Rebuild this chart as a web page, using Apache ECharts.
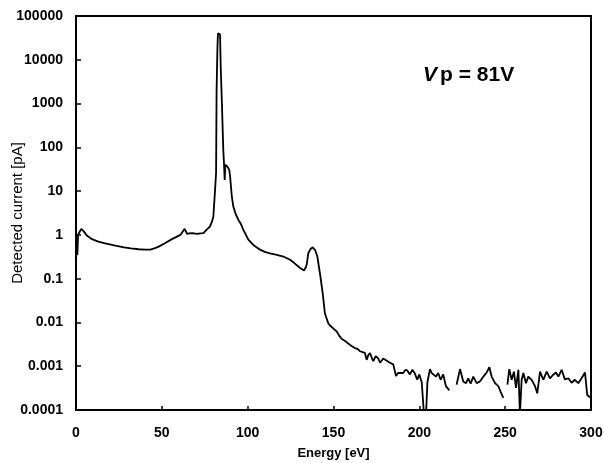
<!DOCTYPE html>
<html>
<head>
<meta charset="utf-8">
<script src="https://cdn.jsdelivr.net/npm/echarts@6/dist/echarts.min.js"></script>
<style>
  html, body { margin: 0; padding: 0; background: #fff; }
  #chart { width: 604px; height: 463px; }
</style>
</head>
<body>
<div id="chart"></div>
<script>
// Energy spectrum of detected current; null marks a break in the trace
const energy = [
  0.0, 0.4, 0.8, 1.2, 2.0, 3.1, 4.5, 6.5, 9.3, 13, 17, 22.9, 28, 32, 36.5, 40, 43.3, 46, 48.2,
  52, 55.9, 58.5, 60.8, 62.2, 63.3, 64.7, 66, 67.6, 70.5, 72.5, 74.2, 76, 78, 79.2, 80, 80.8,
  81.6, 81.9, 82.4, 82.7, 83.2, 83.9, 84.3, 85, 85.8, 86.2, 86.6, 87.0, 87.4, 88.5, 89.3, 89.8,
  90.7, 91.6, 93, 94.6, 96, 97.5, 98.4, 100.4, 103.3, 107.2, 110, 113, 117, 120.8, 124.7, 127,
  129.5, 131, 132.8, 133.8, 134.4, 135.3, 136.5, 137.9, 139.3, 140.6, 142.1, 143.7, 145, 147,
  148, 150, 151.9, 153.3, 154.8, 156.6, 158.6, 160.5, 162.5, 164, 165.4, 167, 168.3, 169.3, 170.3, 171.3, 172.2, 173.2, 174.6, 176.1, 177.1, 178.1, 179, 180,
  181.5, 182.9, 184.8, 186.4, 187.6, 188.7, 190.6, 191.8, 193, 194.5, 196, 197.4, 198.8, 200, 201.4, 202.7, 203.9,
  204.7, 206.2, 207.2, 208.1, 209.7, 211, 212.4, 213.9, 215.5, 217.5, 219.5,
  221.7, 223.7, 225.6, 227.2, 228.5, 229.9, 231.4, 233.4, 235.3, 237.3, 239.2, 240.8, 242.1,
  244.1, 246.0, 247.4, 248.9, 250.1,
  251.3, 252.4, 253.8, 255.1, 256.3, 257.7, 258.6, 259.6, 260.6, 262.1, 263.5, 265.4, 267.4,
  268.7, 270.3, 272.2, 274.2, 276.1, 278.0, 279.6, 281.0, 282.9, 284.8, 286.8, 288.7, 290.6,
  292.6, 294.5, 296.5, 297.8, 299.0, 300
];
const current = [
  0.2, 0.9, 0.35, 1.0, 1.15, 1.37, 1.2, 0.95, 0.80, 0.70, 0.64, 0.57, 0.52, 0.49, 0.47, 0.46, 0.46, 0.50, 0.54,
  0.65, 0.80, 0.90, 1.0, 1.2, 1.37, 1.05, 1.08, 1.1, 1.05, 1.08, 1.1, 1.3, 1.55, 2.0, 2.6, 8,
  26, 2000, 20000, 40000, 42000, 38000, 6900, 1000, 87, 44, 18, 40, 44, 35, 30, 21,
  8, 4.5, 3.0, 2.2, 1.8, 1.3, 1.2, 0.78, 0.59, 0.46, 0.41, 0.38, 0.35, 0.32, 0.27, 0.23,
  0.19, 0.17, 0.153, 0.18, 0.21, 0.38, 0.47, 0.52, 0.45, 0.32, 0.133, 0.047, 0.016, 0.0095,
  0.0085, 0.0072, 0.0062, 0.0050, 0.0042, 0.0038, 0.0033, 0.0029, 0.0026, 0.0025, 0.0022, 0.0021, 0.0020, 0.0014, 0.0018, 0.0020, 0.0016, 0.0013, 0.0017, 0.0015, 0.0012, 0.0013, 0.0015, 0.0014,
  0.0013, 0.0012, 0.0011, 0.0006, 0.0007, 0.00075, 0.0007, 0.00082, 0.0008, 0.00065, 0.00083, 0.00068, 0.00049, 0.00065, 0.00043, 0.00008, 0.00008,
  0.00043, 0.00086, 0.0007, 0.00075, 0.00058, 0.0007, 0.00049, 0.00065, 0.00035, 0.00028, null,
  0.00038, 0.00086, 0.00045, 0.00041, 0.00053, 0.0004, 0.00058, 0.00041, 0.00045, 0.00058, 0.00072, 0.00095, 0.00058,
  0.00041, 0.00035, 0.00026, 0.00019, null,
  0.00038, 0.00086, 0.00049, 0.00075, 0.00032, 0.00083, 0.00008, 0.00049, 0.0007, 0.00041, 0.00058, 0.00049, 0.00035,
  0.00024, 0.00075, 0.00049, 0.00075, 0.00053, 0.00064, 0.00072, 0.00058, 0.00083, 0.0005, 0.00053, 0.00042, 0.00049,
  0.00041, 0.00053, 0.00072, 0.00022, 0.0002, 0.0002
];
const xTicks = [0, 50, 100, 150, 200, 250, 300];
const yTickLabels = ['0.0001', '0.001', '0.01', '0.1', '1', '10', '100', '1000', '10000', '100000'];

const FONT = "'Liberation Sans', Arial, sans-serif";
const points = energy.map((e, i) => [e, current[i] == null ? '-' : current[i]]);

const chart = echarts.init(document.getElementById('chart'), null, { renderer: 'canvas' });
chart.setOption({
  animation: false,
  backgroundColor: '#fff',
  title: {
    left: 418, top: 60,
    text: '{a|V}{b|p = 81V}',
    textStyle: {
      rich: {
        a: { fontFamily: FONT, fontSize: 21, fontWeight: 'bold', fontStyle: 'italic', color: '#000', padding: [0, 3, 0, 0] },
        b: { fontFamily: FONT, fontSize: 21, fontWeight: 'bold', color: '#000' }
      }
    }
  },
  grid: {
    left: 76, right: 13, top: 16, bottom: 53,
    containLabel: false, outerBoundsMode: 'none',
    show: true, borderColor: '#000', borderWidth: 2, backgroundColor: '#fff'
  },
  xAxis: {
    type: 'value', min: xTicks[0], max: xTicks[xTicks.length - 1], interval: 50,
    name: 'Energy [eV]', nameLocation: 'middle', nameGap: 37, nameMoveOverlap: false,
    nameTextStyle: { fontFamily: FONT, fontSize: 13, fontWeight: 'bold', color: '#000' },
    axisLine: { show: true, lineStyle: { color: '#000', width: 2 } },
    axisTick: { show: true, inside: true, length: 4, lineStyle: { color: '#000', width: 1.5 } },
    axisLabel: { fontFamily: FONT, fontSize: 14, fontWeight: 'bold', color: '#000', margin: 16 },
    splitLine: { show: false }
  },
  yAxis: {
    type: 'log', logBase: 10, min: 0.0001, max: 100000, interval: 1,
    name: 'Detected current [pA]', nameLocation: 'middle', nameGap: 51, nameRotate: 90, nameMoveOverlap: false,
    nameTextStyle: { fontFamily: FONT, fontSize: 15, color: '#000' },
    axisLine: { show: true, lineStyle: { color: '#000', width: 2 } },
    axisTick: { show: true, inside: true, length: 5, lineStyle: { color: '#000', width: 1.5 } },
    axisLabel: {
      fontFamily: FONT, fontSize: 14, fontWeight: 'bold', color: '#000', margin: 13,
      formatter: v => yTickLabels[Math.round(Math.log10(v)) + 4]
    },
    splitLine: { show: false }
  },
  series: [{
    type: 'line',
    data: points,
    showSymbol: false,
    connectNulls: false,
    clip: true,
    lineStyle: { color: '#000', width: 1.8 }
  }]
});
</script>
</body>
</html>
